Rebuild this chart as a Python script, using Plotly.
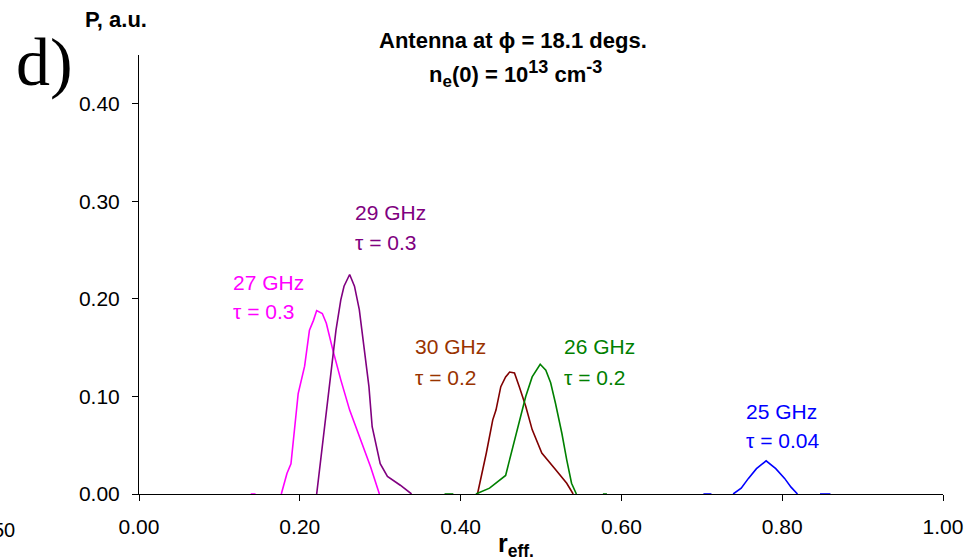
import plotly.graph_objects as go

# ---- data ----
r_27 = [0.139, 0.145, None, 0.177, 0.184, 0.189, 0.198, 0.206, 0.212, 0.217, 0.221, 0.228, 0.233, 0.241, 0.251, 0.262, 0.276, 0.288, 0.299]
p_27 = [0.0, 0.0, None, 0.0, 0.021, 0.031, 0.103, 0.131, 0.168, 0.178, 0.188, 0.185, 0.175, 0.148, 0.117, 0.086, 0.055, 0.028, 0.0]

r_29 = [0.221, 0.227, 0.233, 0.239, 0.245, 0.251, 0.255, 0.262, 0.268, 0.274, 0.280, 0.286, 0.290, 0.294, 0.300, 0.309, 0.325, 0.339]
p_29 = [0.0, 0.042, 0.083, 0.131, 0.168, 0.199, 0.213, 0.225, 0.213, 0.189, 0.151, 0.110, 0.069, 0.055, 0.031, 0.018, 0.009, 0.0]

r_30 = [0.421, 0.426, 0.432, 0.440, 0.444, 0.450, 0.456, 0.461, 0.467, 0.473, 0.481, 0.489, 0.501, 0.518, 0.532, 0.540]
p_30 = [0.0, 0.018, 0.042, 0.076, 0.086, 0.110, 0.120, 0.125, 0.124, 0.110, 0.090, 0.066, 0.042, 0.025, 0.011, 0.0]

r_26 = [0.380, 0.391, None, 0.419, 0.436, 0.456, 0.465, 0.473, 0.481, 0.489, 0.499, 0.506, 0.512, 0.518, 0.526, 0.532, 0.538, 0.544, None, 0.577, 0.582]
p_26 = [0.0, 0.0, None, 0.0, 0.006, 0.019, 0.049, 0.076, 0.100, 0.120, 0.133, 0.127, 0.114, 0.093, 0.062, 0.035, 0.011, 0.0, None, 0.0, 0.0]

r_25 = [0.702, 0.712, None, 0.739, 0.749, 0.758, 0.768, 0.780, 0.792, 0.803, 0.811, 0.819, None, 0.847, 0.860]
p_25 = [0.0, 0.0, None, 0.0, 0.006, 0.016, 0.026, 0.034, 0.026, 0.016, 0.007, 0.0, None, 0.0, 0.0]

x_ticks = [0.0, 0.2, 0.4, 0.6, 0.8, 1.0]
x_tick_labels = ["0.00", "0.20", "0.40", "0.60", "0.80", "1.00"]
y_ticks = [0.0, 0.1, 0.2, 0.3, 0.4]
y_tick_labels = ["0.00", "0.10", "0.20", "0.30", "0.40"]

series = [
    ("27 GHz", "τ = 0.3", r_27, p_27, "#FF00FF", "#FF00FF", 0.114, 0.217, 0.187),
    ("29 GHz", "τ = 0.3", r_29, p_29, "#800080", "#800080", 0.266, 0.289, 0.258),
    ("30 GHz", "τ = 0.2", r_30, p_30, "#800000", "#993300", 0.341, 0.151, 0.119),
    ("26 GHz", "τ = 0.2", r_26, p_26, "#008000", "#008000", 0.526, 0.151, 0.119),
    ("25 GHz", "τ = 0.04", r_25, p_25, "#0000FF", "#0000FF", 0.752, 0.085, 0.055),
]

FONT = "Arial, Liberation Sans, sans-serif"

fig = go.Figure()
annotations = []
for name, tau, xs, ys, lc, tc, ax, ay1, ay2 in series:
    fig.add_trace(go.Scatter(x=xs, y=ys, mode="lines", name=name,
                             line=dict(color=lc, width=1.6), connectgaps=False,
                             hoverinfo="skip"))
    annotations.append(dict(x=ax, y=ay1, xref="x", yref="y", text=name, showarrow=False,
                            xanchor="left", yanchor="middle",
                            font=dict(family=FONT, size=21, color=tc)))
    annotations.append(dict(x=ax, y=ay2, xref="x", yref="y", text=tau, showarrow=False,
                            xanchor="left", yanchor="middle",
                            font=dict(family=FONT, size=21, color=tc)))

annotations += [
    dict(x=0.465, y=1.034, xref="paper", yref="paper", showarrow=False,
         text="<b>Antenna at ϕ = 18.1 degs.</b>", xanchor="center", yanchor="middle",
         font=dict(family=FONT, size=22, color="black")),
    dict(x=0.468, y=0.956, xref="paper", yref="paper", showarrow=False,
         text="<b>n<sub><span style='font-size:17px'>e</span></sub>(0) = 10<sup><span style='font-size:18px'>13</span></sup> cm<sup><span style='font-size:18px'>-3</span></sup></b>",
         xanchor="center", yanchor="middle",
         font=dict(family=FONT, size=22, color="black")),
    dict(x=-0.028, y=1.080, xref="paper", yref="paper", showarrow=False,
         text="<b>P, a.u.</b>", xanchor="center", yanchor="middle",
         font=dict(family=FONT, size=22, color="black")),
    dict(x=-0.1555, y=0.984, xref="paper", yref="paper", showarrow=False,
         text="d)", xanchor="left", yanchor="middle",
         font=dict(family="Times New Roman, Liberation Serif, serif", size=68, color="black")),
    dict(x=0.469, y=-0.116, xref="paper", yref="paper", showarrow=False,
         text="<b>r<sub>eff.</sub></b>", xanchor="center", yanchor="middle",
         font=dict(family=FONT, size=25, color="black")),
    dict(x=-0.1515, y=-0.082, xref="paper", yref="paper", showarrow=False,
         text="50", xanchor="right", yanchor="middle",
         font=dict(family=FONT, size=20, color="black")),
]

fig.update_layout(
    width=975, height=560,
    margin=dict(l=139, r=23, t=55, b=66),
    paper_bgcolor="white", plot_bgcolor="white",
    showlegend=False,
    annotations=annotations,
    font=dict(family=FONT, size=21, color="black"),
)
fig.update_xaxes(range=[0, 1.0], tickvals=x_ticks, ticktext=x_tick_labels,
                 showgrid=False, zeroline=False, showline=True, linecolor="black", linewidth=1,
                 ticks="outside", ticklen=6, tickcolor="black", tickwidth=1,
                 ticklabelstandoff=8,
                 tickfont=dict(family=FONT, size=21, color="black"))
fig.update_yaxes(range=[0, 0.45], tickvals=y_ticks, ticktext=y_tick_labels,
                 showgrid=False, zeroline=False, showline=True, linecolor="black", linewidth=1,
                 ticks="outside", ticklen=6, tickcolor="black", tickwidth=1,
                 ticklabelstandoff=8,
                 tickfont=dict(family=FONT, size=21, color="black"))

fig.write_html("out.html")
